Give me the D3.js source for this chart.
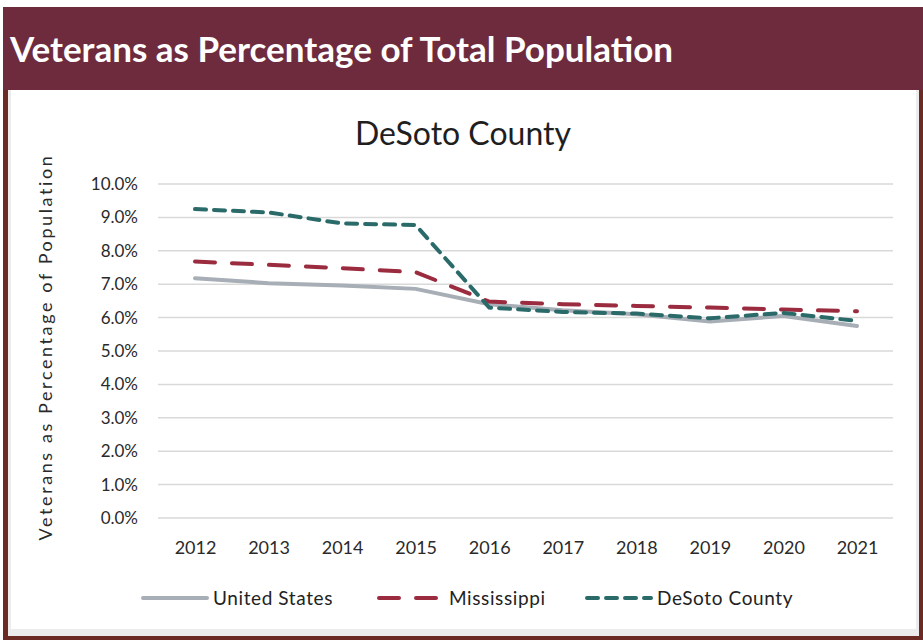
<!DOCTYPE html>
<html>
<head>
<meta charset="utf-8">
<script src="https://cdn.jsdelivr.net/npm/d3@7"></script>
<style>
  body { margin: 0; background: #fff; }
  svg { display: block; font-family: "Lato", "Open Sans", sans-serif; }
</style>
</head>
<body>
<script>
// data
var years = ["2012", "2013", "2014", "2015", "2016", "2017", "2018", "2019", "2020", "2021"];
var unitedStates = [7.18, 7.03, 6.96, 6.86, 6.40, 6.22, 6.10, 5.88, 6.05, 5.75];
var mississippi  = [7.68, 7.58, 7.48, 7.36, 6.48, 6.40, 6.35, 6.30, 6.24, 6.19];
var desoto       = [9.25, 9.15, 8.82, 8.77, 6.30, 6.17, 6.12, 5.98, 6.14, 5.90];
var yTicks = [0, 1, 2, 3, 4, 5, 6, 7, 8, 9, 10];

var seriesNames = ["United States", "Mississippi", "DeSoto County"];
var seriesData = [unitedStates, mississippi, desoto];
var seriesColor = ["#a7aeb5", "#9b2c3f", "#2a6b6a"];
var seriesDash = [null, "20,17", "11,8"];

var W = 923, H = 640;
var svg = d3.select("body").append("svg")
    .attr("width", W)
    .attr("height", H);

// kader
svg.append("rect").attr("x", 3).attr("y", 84).attr("width", W - 3).attr("height", H - 84)
    .attr("fill", "#6c2a24");
svg.append("rect").attr("x", 8).attr("y", 84).attr("width", W - 12).attr("height", H - 88)
    .attr("fill", "#ececec");
svg.append("rect").attr("x", 11).attr("y", 84).attr("width", W - 18).attr("height", H - 95)
    .attr("fill", "#fff");

// kop
svg.append("rect").attr("x", 3).attr("y", 7).attr("width", W - 3).attr("height", 83)
    .attr("fill", "#6e2b3e");
svg.append("text")
    .attr("x", 10).attr("y", 62)
    .attr("fill", "#fff")
    .style("font-size", "35px")
    .style("font-weight", "bold")
    .text("Veterans as Percentage of Total Population");

// grafiek
var x = d3.scalePoint().domain(years).range([195, 857]);
var y = d3.scaleLinear().domain([0, 10]).range([518, 184]);
var gridLeft = 158, gridRight = 893;

svg.append("text")
    .attr("x", 463).attr("y", 145)
    .attr("text-anchor", "middle")
    .attr("fill", "#1f1f1f")
    .style("font-size", "32px")
    .text("DeSoto County");

svg.append("g")
  .selectAll("line")
  .data(yTicks)
  .join("line")
    .attr("x1", gridLeft).attr("x2", gridRight)
    .attr("y1", function(d) { return y(d); })
    .attr("y2", function(d) { return y(d); })
    .attr("stroke", "#d9d9d9")
    .attr("stroke-width", 1.5);

var yAxis = svg.append("g")
    .attr("transform", "translate(" + (gridLeft - 6) + ",0)")
    .call(d3.axisLeft(y).tickValues(yTicks).tickSize(0).tickPadding(14)
      .tickFormat(function(d) { return d.toFixed(1) + "%"; }));
yAxis.select(".domain").remove();
yAxis.selectAll("text")
    .attr("fill", "#2a2a2a")
    .style("font-size", "17px")
    .style("font-family", "Lato, sans-serif");

var xAxis = svg.append("g")
    .attr("transform", "translate(0," + y(0) + ")")
    .call(d3.axisBottom(x).tickSize(0).tickPadding(23));
xAxis.select(".domain").remove();
xAxis.selectAll("text")
    .attr("fill", "#2a2a2a")
    .style("font-size", "18px")
    .style("font-family", "Lato, sans-serif");

svg.append("text")
    .attr("transform", "translate(52,347) rotate(-90)")
    .attr("text-anchor", "middle")
    .attr("fill", "#2a2a2a")
    .style("font-size", "18px")
    .style("letter-spacing", "2.6px")
    .text("Veterans as Percentage of Population");

var line = d3.line()
    .x(function(d, i) { return x(years[i]); })
    .y(function(d) { return y(d); });

svg.append("g")
  .selectAll("path")
  .data(seriesData)
  .join("path")
    .attr("d", line)
    .attr("fill", "none")
    .attr("stroke", function(d, i) { return seriesColor[i]; })
    .attr("stroke-width", 4)
    .attr("stroke-linecap", "round")
    .attr("stroke-dasharray", function(d, i) { return seriesDash[i]; });

// legenda
var legendX = [141, 377, 585];
var legend = svg.append("g")
  .selectAll("g")
  .data(seriesNames)
  .join("g")
    .attr("transform", function(d, i) { return "translate(" + legendX[i] + ",598)"; });

legend.append("line")
    .attr("x1", 2).attr("x2", 66)
    .attr("stroke", function(d, i) { return seriesColor[i]; })
    .attr("stroke-width", 4)
    .attr("stroke-linecap", "round")
    .attr("stroke-dasharray", function(d, i) { return seriesDash[i]; });

legend.append("text")
    .attr("x", 72)
    .attr("dy", "0.35em")
    .attr("fill", "#222")
    .style("font-size", "19px")
    .style("letter-spacing", "0.6px")
    .text(function(d) { return d; });
</script>
</body>
</html>
